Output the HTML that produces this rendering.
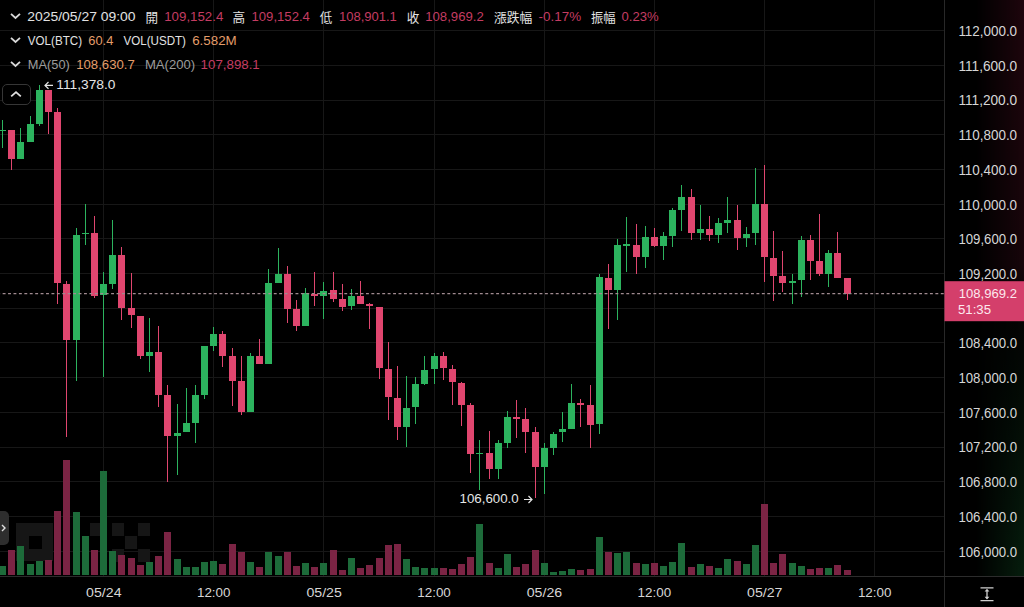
<!DOCTYPE html>
<html><head><meta charset="utf-8"><title>BTC/USDT</title>
<style>
*{margin:0;padding:0;box-sizing:border-box}
html,body{width:1024px;height:607px;background:#000;overflow:hidden}
body{position:relative;font-family:"Liberation Sans","Noto Sans CJK TC",sans-serif;color:#dcdcdc}
svg{position:absolute;left:0;top:0}
.glow{position:absolute;left:944px;top:0;width:80px;height:576px;background:linear-gradient(180deg,rgba(60,10,25,0.5) 0%,rgba(55,12,24,0.42) 46%,rgba(20,15,15,0.2) 54%,rgba(8,30,15,0.3) 66%,rgba(10,50,22,0.6) 100%);-webkit-mask-image:linear-gradient(to right,transparent 40%,#000 100%);mask-image:linear-gradient(to right,transparent 40%,#000 100%)}
.btn{position:absolute;left:2px;top:84px;width:29px;height:21px;border:1.5px solid #363636;border-radius:5px;background:#000}
.tab{position:absolute;left:-6px;top:511px;width:15px;height:34px;border-radius:5px;background:#2e2e2e}
</style></head><body>
<div class="glow"></div>
<svg width="1024" height="607" viewBox="0 0 1024 607" shape-rendering="crispEdges">
<line x1="0" y1="30.5" x2="944" y2="30.5" stroke="#171717" stroke-width="1"/>
<line x1="0" y1="65.5" x2="944" y2="65.5" stroke="#171717" stroke-width="1"/>
<line x1="0" y1="100.5" x2="944" y2="100.5" stroke="#171717" stroke-width="1"/>
<line x1="0" y1="134.5" x2="944" y2="134.5" stroke="#171717" stroke-width="1"/>
<line x1="0" y1="169.5" x2="944" y2="169.5" stroke="#171717" stroke-width="1"/>
<line x1="0" y1="204.5" x2="944" y2="204.5" stroke="#171717" stroke-width="1"/>
<line x1="0" y1="238.5" x2="944" y2="238.5" stroke="#171717" stroke-width="1"/>
<line x1="0" y1="273.5" x2="944" y2="273.5" stroke="#171717" stroke-width="1"/>
<line x1="0" y1="308.5" x2="944" y2="308.5" stroke="#171717" stroke-width="1"/>
<line x1="0" y1="342.5" x2="944" y2="342.5" stroke="#171717" stroke-width="1"/>
<line x1="0" y1="377.5" x2="944" y2="377.5" stroke="#171717" stroke-width="1"/>
<line x1="0" y1="412.5" x2="944" y2="412.5" stroke="#171717" stroke-width="1"/>
<line x1="0" y1="447.5" x2="944" y2="447.5" stroke="#171717" stroke-width="1"/>
<line x1="0" y1="481.5" x2="944" y2="481.5" stroke="#171717" stroke-width="1"/>
<line x1="0" y1="516.5" x2="944" y2="516.5" stroke="#171717" stroke-width="1"/>
<line x1="0" y1="551.5" x2="944" y2="551.5" stroke="#171717" stroke-width="1"/>
<line x1="103.5" y1="0" x2="103.5" y2="576" stroke="#171717" stroke-width="1"/>
<line x1="213.5" y1="0" x2="213.5" y2="576" stroke="#171717" stroke-width="1"/>
<line x1="323.5" y1="0" x2="323.5" y2="576" stroke="#171717" stroke-width="1"/>
<line x1="434.5" y1="0" x2="434.5" y2="576" stroke="#171717" stroke-width="1"/>
<line x1="544.5" y1="0" x2="544.5" y2="576" stroke="#171717" stroke-width="1"/>
<line x1="654.5" y1="0" x2="654.5" y2="576" stroke="#171717" stroke-width="1"/>
<line x1="764.5" y1="0" x2="764.5" y2="576" stroke="#171717" stroke-width="1"/>
<line x1="874.5" y1="0" x2="874.5" y2="576" stroke="#171717" stroke-width="1"/>
<path d="M15.9 523.3h37.5v37.5h-37.5z M28.6 536.0v12.5h13v-12.5z" fill="#161616" fill-rule="evenodd"/>
<rect x="90.0" y="523.3" width="12.5" height="12.5" fill="#161616"/>
<rect x="111.5" y="523.3" width="12.5" height="12.5" fill="#161616"/>
<rect x="137.5" y="523.3" width="12.5" height="12.5" fill="#161616"/>
<rect x="124.5" y="536.3" width="12.5" height="12.5" fill="#161616"/>
<rect x="111.5" y="549.3" width="12.5" height="12.5" fill="#161616"/>
<rect x="137.5" y="549.3" width="12.5" height="12.5" fill="#161616"/>
<rect x="-1" y="566" width="7" height="9" fill="#1d6b3a"/>
<rect x="8" y="550" width="7" height="25" fill="#7b2444"/>
<rect x="17" y="546" width="7" height="29" fill="#1d6b3a"/>
<rect x="27" y="564" width="7" height="11" fill="#1d6b3a"/>
<rect x="36" y="561" width="7" height="14" fill="#1d6b3a"/>
<rect x="45" y="560" width="7" height="15" fill="#7b2444"/>
<rect x="54" y="511" width="7" height="64" fill="#7b2444"/>
<rect x="63" y="460" width="7" height="115" fill="#7b2444"/>
<rect x="73" y="512" width="7" height="63" fill="#1d6b3a"/>
<rect x="82" y="536" width="7" height="39" fill="#1d6b3a"/>
<rect x="91" y="550" width="7" height="25" fill="#7b2444"/>
<rect x="100" y="471" width="7" height="104" fill="#1d6b3a"/>
<rect x="109" y="551" width="7" height="24" fill="#1d6b3a"/>
<rect x="118" y="555" width="7" height="20" fill="#7b2444"/>
<rect x="128" y="558" width="7" height="17" fill="#7b2444"/>
<rect x="137" y="565" width="7" height="10" fill="#7b2444"/>
<rect x="146" y="562" width="7" height="13" fill="#1d6b3a"/>
<rect x="155" y="556" width="7" height="19" fill="#7b2444"/>
<rect x="164" y="532" width="7" height="43" fill="#7b2444"/>
<rect x="174" y="559" width="7" height="16" fill="#1d6b3a"/>
<rect x="183" y="567" width="7" height="8" fill="#1d6b3a"/>
<rect x="192" y="567" width="7" height="8" fill="#1d6b3a"/>
<rect x="201" y="562" width="7" height="13" fill="#1d6b3a"/>
<rect x="210" y="561" width="7" height="14" fill="#1d6b3a"/>
<rect x="219" y="564" width="7" height="11" fill="#7b2444"/>
<rect x="229" y="544" width="7" height="31" fill="#7b2444"/>
<rect x="238" y="552" width="7" height="23" fill="#7b2444"/>
<rect x="247" y="562" width="7" height="13" fill="#1d6b3a"/>
<rect x="256" y="567" width="7" height="8" fill="#7b2444"/>
<rect x="265" y="552" width="7" height="23" fill="#1d6b3a"/>
<rect x="275" y="556" width="7" height="19" fill="#1d6b3a"/>
<rect x="284" y="552" width="7" height="23" fill="#7b2444"/>
<rect x="293" y="566" width="7" height="9" fill="#7b2444"/>
<rect x="302" y="563" width="7" height="12" fill="#1d6b3a"/>
<rect x="311" y="567" width="7" height="8" fill="#7b2444"/>
<rect x="320" y="563" width="7" height="12" fill="#1d6b3a"/>
<rect x="330" y="550" width="7" height="25" fill="#7b2444"/>
<rect x="339" y="570" width="7" height="5" fill="#7b2444"/>
<rect x="348" y="558" width="7" height="17" fill="#1d6b3a"/>
<rect x="357" y="568" width="7" height="7" fill="#7b2444"/>
<rect x="366" y="565" width="7" height="10" fill="#7b2444"/>
<rect x="376" y="558" width="7" height="17" fill="#7b2444"/>
<rect x="385" y="545" width="7" height="30" fill="#7b2444"/>
<rect x="394" y="544" width="7" height="31" fill="#7b2444"/>
<rect x="403" y="559" width="7" height="16" fill="#1d6b3a"/>
<rect x="412" y="567" width="7" height="8" fill="#1d6b3a"/>
<rect x="421" y="568" width="7" height="7" fill="#1d6b3a"/>
<rect x="431" y="568" width="7" height="7" fill="#1d6b3a"/>
<rect x="440" y="568" width="7" height="7" fill="#7b2444"/>
<rect x="449" y="569" width="7" height="6" fill="#7b2444"/>
<rect x="458" y="564" width="7" height="11" fill="#7b2444"/>
<rect x="467" y="557" width="7" height="18" fill="#7b2444"/>
<rect x="476" y="524" width="7" height="51" fill="#1d6b3a"/>
<rect x="486" y="563" width="7" height="12" fill="#7b2444"/>
<rect x="495" y="568" width="7" height="7" fill="#1d6b3a"/>
<rect x="504" y="554" width="7" height="21" fill="#1d6b3a"/>
<rect x="513" y="567" width="7" height="8" fill="#7b2444"/>
<rect x="522" y="564" width="7" height="11" fill="#7b2444"/>
<rect x="532" y="550" width="7" height="25" fill="#7b2444"/>
<rect x="541" y="563" width="7" height="12" fill="#1d6b3a"/>
<rect x="550" y="572" width="7" height="3" fill="#1d6b3a"/>
<rect x="559" y="571" width="7" height="4" fill="#1d6b3a"/>
<rect x="568" y="569" width="7" height="6" fill="#1d6b3a"/>
<rect x="577" y="570" width="7" height="5" fill="#7b2444"/>
<rect x="587" y="569" width="7" height="6" fill="#7b2444"/>
<rect x="596" y="537" width="7" height="38" fill="#1d6b3a"/>
<rect x="605" y="552" width="7" height="23" fill="#7b2444"/>
<rect x="614" y="553" width="7" height="22" fill="#1d6b3a"/>
<rect x="623" y="552" width="7" height="23" fill="#1d6b3a"/>
<rect x="633" y="563" width="7" height="12" fill="#7b2444"/>
<rect x="642" y="564" width="7" height="11" fill="#1d6b3a"/>
<rect x="651" y="563" width="7" height="12" fill="#7b2444"/>
<rect x="660" y="566" width="7" height="9" fill="#1d6b3a"/>
<rect x="669" y="562" width="7" height="13" fill="#1d6b3a"/>
<rect x="678" y="543" width="7" height="32" fill="#1d6b3a"/>
<rect x="688" y="567" width="7" height="8" fill="#7b2444"/>
<rect x="697" y="564" width="7" height="11" fill="#1d6b3a"/>
<rect x="706" y="566" width="7" height="9" fill="#7b2444"/>
<rect x="715" y="568" width="7" height="7" fill="#1d6b3a"/>
<rect x="724" y="559" width="7" height="16" fill="#1d6b3a"/>
<rect x="734" y="561" width="7" height="14" fill="#7b2444"/>
<rect x="743" y="564" width="7" height="11" fill="#1d6b3a"/>
<rect x="752" y="545" width="7" height="30" fill="#1d6b3a"/>
<rect x="761" y="504" width="7" height="71" fill="#7b2444"/>
<rect x="770" y="563" width="7" height="12" fill="#7b2444"/>
<rect x="779" y="554" width="7" height="21" fill="#7b2444"/>
<rect x="789" y="563" width="7" height="12" fill="#1d6b3a"/>
<rect x="798" y="566" width="7" height="9" fill="#1d6b3a"/>
<rect x="807" y="569" width="7" height="6" fill="#7b2444"/>
<rect x="816" y="568" width="7" height="7" fill="#7b2444"/>
<rect x="825" y="568" width="7" height="7" fill="#1d6b3a"/>
<rect x="834" y="565" width="7" height="10" fill="#7b2444"/>
<rect x="844" y="570" width="7" height="5" fill="#7b2444"/>
<rect x="2" y="120" width="1" height="28" fill="#2cb35e"/>
<rect x="-1" y="130" width="7" height="1" fill="#2cb35e"/>
<rect x="11" y="130" width="1" height="40" fill="#e0466f"/>
<rect x="8" y="130" width="7" height="29" fill="#e0466f"/>
<rect x="20" y="128" width="1" height="31" fill="#2cb35e"/>
<rect x="17" y="142" width="7" height="17" fill="#2cb35e"/>
<rect x="30" y="116" width="1" height="26" fill="#2cb35e"/>
<rect x="27" y="124" width="7" height="18" fill="#2cb35e"/>
<rect x="39" y="85" width="1" height="41" fill="#2cb35e"/>
<rect x="36" y="90" width="7" height="34" fill="#2cb35e"/>
<rect x="48" y="90" width="1" height="44" fill="#e0466f"/>
<rect x="45" y="90" width="7" height="22" fill="#e0466f"/>
<rect x="57" y="108" width="1" height="196" fill="#e0466f"/>
<rect x="54" y="112" width="7" height="171" fill="#e0466f"/>
<rect x="66" y="281" width="1" height="156" fill="#e0466f"/>
<rect x="63" y="284" width="7" height="56" fill="#e0466f"/>
<rect x="76" y="228" width="1" height="153" fill="#2cb35e"/>
<rect x="73" y="235" width="7" height="105" fill="#2cb35e"/>
<rect x="85" y="204" width="1" height="41" fill="#2cb35e"/>
<rect x="82" y="233" width="7" height="1" fill="#2cb35e"/>
<rect x="94" y="216" width="1" height="82" fill="#e0466f"/>
<rect x="91" y="233" width="7" height="63" fill="#e0466f"/>
<rect x="103" y="272" width="1" height="105" fill="#2cb35e"/>
<rect x="100" y="284" width="7" height="11" fill="#2cb35e"/>
<rect x="112" y="220" width="1" height="69" fill="#2cb35e"/>
<rect x="109" y="255" width="7" height="29" fill="#2cb35e"/>
<rect x="121" y="247" width="1" height="73" fill="#e0466f"/>
<rect x="118" y="255" width="7" height="53" fill="#e0466f"/>
<rect x="131" y="273" width="1" height="55" fill="#e0466f"/>
<rect x="128" y="308" width="7" height="7" fill="#e0466f"/>
<rect x="140" y="316" width="1" height="43" fill="#e0466f"/>
<rect x="137" y="316" width="7" height="40" fill="#e0466f"/>
<rect x="149" y="318" width="1" height="54" fill="#2cb35e"/>
<rect x="146" y="352" width="7" height="4" fill="#2cb35e"/>
<rect x="158" y="326" width="1" height="81" fill="#e0466f"/>
<rect x="155" y="352" width="7" height="43" fill="#e0466f"/>
<rect x="167" y="385" width="1" height="97" fill="#e0466f"/>
<rect x="164" y="395" width="7" height="41" fill="#e0466f"/>
<rect x="177" y="404" width="1" height="71" fill="#2cb35e"/>
<rect x="174" y="433" width="7" height="3" fill="#2cb35e"/>
<rect x="186" y="388" width="1" height="44" fill="#2cb35e"/>
<rect x="183" y="423" width="7" height="9" fill="#2cb35e"/>
<rect x="195" y="385" width="1" height="58" fill="#2cb35e"/>
<rect x="192" y="395" width="7" height="28" fill="#2cb35e"/>
<rect x="204" y="346" width="1" height="53" fill="#2cb35e"/>
<rect x="201" y="346" width="7" height="49" fill="#2cb35e"/>
<rect x="213" y="327" width="1" height="24" fill="#2cb35e"/>
<rect x="210" y="334" width="7" height="12" fill="#2cb35e"/>
<rect x="222" y="331" width="1" height="36" fill="#e0466f"/>
<rect x="219" y="334" width="7" height="22" fill="#e0466f"/>
<rect x="232" y="348" width="1" height="58" fill="#e0466f"/>
<rect x="229" y="356" width="7" height="25" fill="#e0466f"/>
<rect x="241" y="356" width="1" height="59" fill="#e0466f"/>
<rect x="238" y="381" width="7" height="31" fill="#e0466f"/>
<rect x="250" y="353" width="1" height="59" fill="#2cb35e"/>
<rect x="247" y="356" width="7" height="56" fill="#2cb35e"/>
<rect x="259" y="339" width="1" height="25" fill="#e0466f"/>
<rect x="256" y="356" width="7" height="8" fill="#e0466f"/>
<rect x="268" y="269" width="1" height="95" fill="#2cb35e"/>
<rect x="265" y="283" width="7" height="81" fill="#2cb35e"/>
<rect x="278" y="248" width="1" height="35" fill="#2cb35e"/>
<rect x="275" y="274" width="7" height="9" fill="#2cb35e"/>
<rect x="287" y="266" width="1" height="57" fill="#e0466f"/>
<rect x="284" y="274" width="7" height="35" fill="#e0466f"/>
<rect x="296" y="300" width="1" height="31" fill="#e0466f"/>
<rect x="293" y="309" width="7" height="17" fill="#e0466f"/>
<rect x="305" y="288" width="1" height="38" fill="#2cb35e"/>
<rect x="302" y="293" width="7" height="33" fill="#2cb35e"/>
<rect x="314" y="272" width="1" height="34" fill="#e0466f"/>
<rect x="311" y="294" width="7" height="2" fill="#e0466f"/>
<rect x="323" y="282" width="1" height="37" fill="#2cb35e"/>
<rect x="320" y="291" width="7" height="5" fill="#2cb35e"/>
<rect x="333" y="272" width="1" height="30" fill="#e0466f"/>
<rect x="330" y="290" width="7" height="9" fill="#e0466f"/>
<rect x="342" y="284" width="1" height="27" fill="#e0466f"/>
<rect x="339" y="299" width="7" height="8" fill="#e0466f"/>
<rect x="351" y="289" width="1" height="21" fill="#2cb35e"/>
<rect x="348" y="296" width="7" height="10" fill="#2cb35e"/>
<rect x="360" y="281" width="1" height="23" fill="#e0466f"/>
<rect x="357" y="296" width="7" height="8" fill="#e0466f"/>
<rect x="369" y="303" width="1" height="26" fill="#e0466f"/>
<rect x="366" y="304" width="7" height="2" fill="#e0466f"/>
<rect x="379" y="307" width="1" height="72" fill="#e0466f"/>
<rect x="376" y="307" width="7" height="61" fill="#e0466f"/>
<rect x="388" y="342" width="1" height="78" fill="#e0466f"/>
<rect x="385" y="369" width="7" height="28" fill="#e0466f"/>
<rect x="397" y="366" width="1" height="74" fill="#e0466f"/>
<rect x="394" y="398" width="7" height="29" fill="#e0466f"/>
<rect x="406" y="376" width="1" height="71" fill="#2cb35e"/>
<rect x="403" y="408" width="7" height="19" fill="#2cb35e"/>
<rect x="415" y="377" width="1" height="47" fill="#2cb35e"/>
<rect x="412" y="384" width="7" height="23" fill="#2cb35e"/>
<rect x="424" y="356" width="1" height="29" fill="#2cb35e"/>
<rect x="421" y="370" width="7" height="14" fill="#2cb35e"/>
<rect x="434" y="353" width="1" height="31" fill="#2cb35e"/>
<rect x="431" y="356" width="7" height="13" fill="#2cb35e"/>
<rect x="443" y="352" width="1" height="28" fill="#e0466f"/>
<rect x="440" y="356" width="7" height="12" fill="#e0466f"/>
<rect x="452" y="365" width="1" height="40" fill="#e0466f"/>
<rect x="449" y="369" width="7" height="13" fill="#e0466f"/>
<rect x="461" y="382" width="1" height="44" fill="#e0466f"/>
<rect x="458" y="383" width="7" height="22" fill="#e0466f"/>
<rect x="470" y="403" width="1" height="70" fill="#e0466f"/>
<rect x="467" y="405" width="7" height="49" fill="#e0466f"/>
<rect x="479" y="440" width="1" height="50" fill="#2cb35e"/>
<rect x="476" y="453" width="7" height="1" fill="#2cb35e"/>
<rect x="489" y="431" width="1" height="48" fill="#e0466f"/>
<rect x="486" y="453" width="7" height="16" fill="#e0466f"/>
<rect x="498" y="440" width="1" height="39" fill="#2cb35e"/>
<rect x="495" y="443" width="7" height="26" fill="#2cb35e"/>
<rect x="507" y="411" width="1" height="37" fill="#2cb35e"/>
<rect x="504" y="417" width="7" height="26" fill="#2cb35e"/>
<rect x="516" y="400" width="1" height="38" fill="#e0466f"/>
<rect x="513" y="417" width="7" height="2" fill="#e0466f"/>
<rect x="525" y="408" width="1" height="45" fill="#e0466f"/>
<rect x="522" y="419" width="7" height="13" fill="#e0466f"/>
<rect x="535" y="427" width="1" height="71" fill="#e0466f"/>
<rect x="532" y="432" width="7" height="35" fill="#e0466f"/>
<rect x="544" y="443" width="1" height="51" fill="#2cb35e"/>
<rect x="541" y="448" width="7" height="19" fill="#2cb35e"/>
<rect x="553" y="432" width="1" height="23" fill="#2cb35e"/>
<rect x="550" y="434" width="7" height="14" fill="#2cb35e"/>
<rect x="562" y="412" width="1" height="30" fill="#2cb35e"/>
<rect x="559" y="429" width="7" height="3" fill="#2cb35e"/>
<rect x="571" y="384" width="1" height="45" fill="#2cb35e"/>
<rect x="568" y="403" width="7" height="26" fill="#2cb35e"/>
<rect x="580" y="399" width="1" height="28" fill="#e0466f"/>
<rect x="577" y="403" width="7" height="2" fill="#e0466f"/>
<rect x="590" y="385" width="1" height="63" fill="#e0466f"/>
<rect x="587" y="405" width="7" height="20" fill="#e0466f"/>
<rect x="599" y="274" width="1" height="160" fill="#2cb35e"/>
<rect x="596" y="277" width="7" height="147" fill="#2cb35e"/>
<rect x="608" y="264" width="1" height="65" fill="#e0466f"/>
<rect x="605" y="278" width="7" height="12" fill="#e0466f"/>
<rect x="617" y="239" width="1" height="81" fill="#2cb35e"/>
<rect x="614" y="245" width="7" height="45" fill="#2cb35e"/>
<rect x="626" y="217" width="1" height="55" fill="#2cb35e"/>
<rect x="623" y="244" width="7" height="2" fill="#2cb35e"/>
<rect x="636" y="224" width="1" height="50" fill="#e0466f"/>
<rect x="633" y="245" width="7" height="12" fill="#e0466f"/>
<rect x="645" y="226" width="1" height="42" fill="#2cb35e"/>
<rect x="642" y="237" width="7" height="20" fill="#2cb35e"/>
<rect x="654" y="228" width="1" height="19" fill="#e0466f"/>
<rect x="651" y="237" width="7" height="9" fill="#e0466f"/>
<rect x="663" y="232" width="1" height="28" fill="#2cb35e"/>
<rect x="660" y="236" width="7" height="10" fill="#2cb35e"/>
<rect x="672" y="208" width="1" height="39" fill="#2cb35e"/>
<rect x="669" y="210" width="7" height="26" fill="#2cb35e"/>
<rect x="681" y="185" width="1" height="46" fill="#2cb35e"/>
<rect x="678" y="197" width="7" height="13" fill="#2cb35e"/>
<rect x="691" y="189" width="1" height="51" fill="#e0466f"/>
<rect x="688" y="197" width="7" height="36" fill="#e0466f"/>
<rect x="700" y="205" width="1" height="35" fill="#2cb35e"/>
<rect x="697" y="229" width="7" height="4" fill="#2cb35e"/>
<rect x="709" y="216" width="1" height="25" fill="#e0466f"/>
<rect x="706" y="229" width="7" height="6" fill="#e0466f"/>
<rect x="718" y="218" width="1" height="25" fill="#2cb35e"/>
<rect x="715" y="223" width="7" height="12" fill="#2cb35e"/>
<rect x="727" y="197" width="1" height="36" fill="#2cb35e"/>
<rect x="724" y="220" width="7" height="3" fill="#2cb35e"/>
<rect x="737" y="205" width="1" height="45" fill="#e0466f"/>
<rect x="734" y="220" width="7" height="18" fill="#e0466f"/>
<rect x="746" y="227" width="1" height="20" fill="#2cb35e"/>
<rect x="743" y="234" width="7" height="4" fill="#2cb35e"/>
<rect x="755" y="168" width="1" height="77" fill="#2cb35e"/>
<rect x="752" y="204" width="7" height="29" fill="#2cb35e"/>
<rect x="764" y="165" width="1" height="117" fill="#e0466f"/>
<rect x="761" y="204" width="7" height="53" fill="#e0466f"/>
<rect x="773" y="231" width="1" height="70" fill="#e0466f"/>
<rect x="770" y="258" width="7" height="18" fill="#e0466f"/>
<rect x="782" y="251" width="1" height="41" fill="#e0466f"/>
<rect x="779" y="276" width="7" height="7" fill="#e0466f"/>
<rect x="792" y="274" width="1" height="30" fill="#2cb35e"/>
<rect x="789" y="281" width="7" height="2" fill="#2cb35e"/>
<rect x="801" y="236" width="1" height="61" fill="#2cb35e"/>
<rect x="798" y="240" width="7" height="40" fill="#2cb35e"/>
<rect x="810" y="235" width="1" height="45" fill="#e0466f"/>
<rect x="807" y="240" width="7" height="21" fill="#e0466f"/>
<rect x="819" y="214" width="1" height="62" fill="#e0466f"/>
<rect x="816" y="261" width="7" height="13" fill="#e0466f"/>
<rect x="828" y="250" width="1" height="37" fill="#2cb35e"/>
<rect x="825" y="253" width="7" height="21" fill="#2cb35e"/>
<rect x="837" y="232" width="1" height="46" fill="#e0466f"/>
<rect x="834" y="253" width="7" height="25" fill="#e0466f"/>
<rect x="847" y="278" width="1" height="22" fill="#e0466f"/>
<rect x="844" y="278" width="7" height="16" fill="#e0466f"/>
<line x1="0" y1="293.6" x2="944" y2="293.6" stroke="#a08a90" stroke-width="1.1" stroke-dasharray="2.9 2.5228" stroke-dashoffset="2.77" shape-rendering="geometricPrecision"/>
<line x1="944.5" y1="0" x2="944.5" y2="607" stroke="#282828" stroke-width="1"/>
<line x1="0" y1="576.5" x2="1024" y2="576.5" stroke="#2c2c2c" stroke-width="1"/>
</svg>
<svg width="1024" height="607" viewBox="0 0 1024 607">
<g fill="none" stroke="#d8d8d8" stroke-width="1.8">
<path d="M11 13.8 L15.5 18 L20 13.8"/>
<path d="M11 37.8 L15.5 42 L20 37.8"/>
<path d="M11 61.8 L15.5 66 L20 61.8"/>
</g>
<text x="27.30" y="21.1" font-size="13.2" fill="#e2e2e2" font-family='"Liberation Sans",sans-serif' textLength="108.30" lengthAdjust="spacingAndGlyphs">2025/05/27 09:00</text>
<text x="145.60" y="21.6" font-size="12.6" fill="#e2e2e2" font-family='"Noto Sans CJK TC",sans-serif'>開</text>
<text x="164.20" y="21.1" font-size="13.2" fill="#c43c62" font-family='"Liberation Sans",sans-serif' textLength="59.18" lengthAdjust="spacingAndGlyphs">109,152.4</text>
<text x="232.50" y="21.6" font-size="12.6" fill="#e2e2e2" font-family='"Noto Sans CJK TC",sans-serif'>高</text>
<text x="251.50" y="21.1" font-size="13.2" fill="#c43c62" font-family='"Liberation Sans",sans-serif' textLength="58.38" lengthAdjust="spacingAndGlyphs">109,152.4</text>
<text x="319.80" y="21.6" font-size="12.6" fill="#e2e2e2" font-family='"Noto Sans CJK TC",sans-serif'>低</text>
<text x="338.90" y="21.1" font-size="13.2" fill="#c43c62" font-family='"Liberation Sans",sans-serif' textLength="57.98" lengthAdjust="spacingAndGlyphs">108,901.1</text>
<text x="406.70" y="21.6" font-size="12.6" fill="#e2e2e2" font-family='"Noto Sans CJK TC",sans-serif'>收</text>
<text x="425.20" y="21.1" font-size="13.2" fill="#c43c62" font-family='"Liberation Sans",sans-serif' textLength="58.58" lengthAdjust="spacingAndGlyphs">108,969.2</text>
<text x="494.00" y="21.6" font-size="12.6" fill="#e2e2e2" font-family='"Noto Sans CJK TC",sans-serif' textLength="38.30" lengthAdjust="spacingAndGlyphs">漲跌幅</text>
<text x="538.60" y="21.1" font-size="13.2" fill="#c43c62" font-family='"Liberation Sans",sans-serif' textLength="42.58" lengthAdjust="spacingAndGlyphs">-0.17%</text>
<text x="591.00" y="21.6" font-size="12.6" fill="#e2e2e2" font-family='"Noto Sans CJK TC",sans-serif' textLength="24.70" lengthAdjust="spacingAndGlyphs">振幅</text>
<text x="621.60" y="21.1" font-size="13.2" fill="#c43c62" font-family='"Liberation Sans",sans-serif' textLength="37.11" lengthAdjust="spacingAndGlyphs">0.23%</text>
<text x="27.80" y="45.3" font-size="13.2" fill="#e2e2e2" font-family='"Liberation Sans",sans-serif' textLength="54.23" lengthAdjust="spacingAndGlyphs">VOL(BTC)</text>
<text x="88.30" y="45.3" font-size="13.2" fill="#e49d6a" font-family='"Liberation Sans",sans-serif' textLength="25.02" lengthAdjust="spacingAndGlyphs">60.4</text>
<text x="123.40" y="45.3" font-size="13.2" fill="#e2e2e2" font-family='"Liberation Sans",sans-serif' textLength="62.59" lengthAdjust="spacingAndGlyphs">VOL(USDT)</text>
<text x="192.20" y="45.3" font-size="13.2" fill="#e49d6a" font-family='"Liberation Sans",sans-serif' textLength="44.51" lengthAdjust="spacingAndGlyphs">6.582M</text>
<text x="27.80" y="68.75" font-size="13.2" fill="#9c9c9c" font-family='"Liberation Sans",sans-serif' textLength="41.98" lengthAdjust="spacingAndGlyphs">MA(50)</text>
<text x="76.25" y="68.75" font-size="13.2" fill="#e49d6a" font-family='"Liberation Sans",sans-serif' textLength="58.48" lengthAdjust="spacingAndGlyphs">108,630.7</text>
<text x="144.90" y="68.75" font-size="13.2" fill="#9c9c9c" font-family='"Liberation Sans",sans-serif' textLength="50.20" lengthAdjust="spacingAndGlyphs">MA(200)</text>
<text x="200.60" y="68.75" font-size="13.2" fill="#c43c62" font-family='"Liberation Sans",sans-serif' textLength="59.18" lengthAdjust="spacingAndGlyphs">107,898.1</text>
<text x="958.40" y="35.9" font-size="13.8" fill="#d6d6d6" font-family='"Liberation Sans",sans-serif' textLength="58.69" lengthAdjust="spacingAndGlyphs">112,000.0</text>
<text x="958.40" y="70.6" font-size="13.8" fill="#d6d6d6" font-family='"Liberation Sans",sans-serif' textLength="58.71" lengthAdjust="spacingAndGlyphs">111,600.0</text>
<text x="958.40" y="105.3" font-size="13.8" fill="#d6d6d6" font-family='"Liberation Sans",sans-serif' textLength="58.71" lengthAdjust="spacingAndGlyphs">111,200.0</text>
<text x="958.40" y="140.0" font-size="13.8" fill="#d6d6d6" font-family='"Liberation Sans",sans-serif' textLength="58.69" lengthAdjust="spacingAndGlyphs">110,800.0</text>
<text x="958.40" y="174.7" font-size="13.8" fill="#d6d6d6" font-family='"Liberation Sans",sans-serif' textLength="58.69" lengthAdjust="spacingAndGlyphs">110,400.0</text>
<text x="958.40" y="209.5" font-size="13.8" fill="#d6d6d6" font-family='"Liberation Sans",sans-serif' textLength="58.69" lengthAdjust="spacingAndGlyphs">110,000.0</text>
<text x="958.40" y="244.2" font-size="13.8" fill="#d6d6d6" font-family='"Liberation Sans",sans-serif' textLength="58.68" lengthAdjust="spacingAndGlyphs">109,600.0</text>
<text x="958.40" y="278.9" font-size="13.8" fill="#d6d6d6" font-family='"Liberation Sans",sans-serif' textLength="58.68" lengthAdjust="spacingAndGlyphs">109,200.0</text>
<text x="958.40" y="348.3" font-size="13.8" fill="#d6d6d6" font-family='"Liberation Sans",sans-serif' textLength="58.68" lengthAdjust="spacingAndGlyphs">108,400.0</text>
<text x="958.40" y="383.0" font-size="13.8" fill="#d6d6d6" font-family='"Liberation Sans",sans-serif' textLength="58.68" lengthAdjust="spacingAndGlyphs">108,000.0</text>
<text x="958.40" y="417.7" font-size="13.8" fill="#d6d6d6" font-family='"Liberation Sans",sans-serif' textLength="58.68" lengthAdjust="spacingAndGlyphs">107,600.0</text>
<text x="958.40" y="452.4" font-size="13.8" fill="#d6d6d6" font-family='"Liberation Sans",sans-serif' textLength="58.68" lengthAdjust="spacingAndGlyphs">107,200.0</text>
<text x="958.40" y="487.1" font-size="13.8" fill="#d6d6d6" font-family='"Liberation Sans",sans-serif' textLength="58.68" lengthAdjust="spacingAndGlyphs">106,800.0</text>
<text x="958.40" y="521.8" font-size="13.8" fill="#d6d6d6" font-family='"Liberation Sans",sans-serif' textLength="58.68" lengthAdjust="spacingAndGlyphs">106,400.0</text>
<text x="958.40" y="556.5" font-size="13.8" fill="#d6d6d6" font-family='"Liberation Sans",sans-serif' textLength="58.68" lengthAdjust="spacingAndGlyphs">106,000.0</text>
<rect x="944.5" y="281.2" width="80" height="40" fill="#d43f6b"/>
<text x="958.80" y="297.9" font-size="13.2" fill="#fde8ee" font-family='"Liberation Sans",sans-serif' textLength="58.18" lengthAdjust="spacingAndGlyphs">108,969.2</text>
<text x="958.00" y="313.7" font-size="13.2" fill="#fde8ee" font-family='"Liberation Sans",sans-serif' textLength="33.07" lengthAdjust="spacingAndGlyphs">51:35</text>
<text x="86.10" y="597.3" font-size="13.2" fill="#d6d6d6" font-family='"Liberation Sans",sans-serif' textLength="35.46" lengthAdjust="spacingAndGlyphs">05/24</text>
<text x="196.96" y="597.3" font-size="13.2" fill="#d6d6d6" font-family='"Liberation Sans",sans-serif' textLength="33.57" lengthAdjust="spacingAndGlyphs">12:00</text>
<text x="306.42" y="597.3" font-size="13.2" fill="#d6d6d6" font-family='"Liberation Sans",sans-serif' textLength="35.46" lengthAdjust="spacingAndGlyphs">05/25</text>
<text x="417.28" y="597.3" font-size="13.2" fill="#d6d6d6" font-family='"Liberation Sans",sans-serif' textLength="33.57" lengthAdjust="spacingAndGlyphs">12:00</text>
<text x="526.74" y="597.3" font-size="13.2" fill="#d6d6d6" font-family='"Liberation Sans",sans-serif' textLength="35.46" lengthAdjust="spacingAndGlyphs">05/26</text>
<text x="637.60" y="597.3" font-size="13.2" fill="#d6d6d6" font-family='"Liberation Sans",sans-serif' textLength="33.57" lengthAdjust="spacingAndGlyphs">12:00</text>
<text x="747.06" y="597.3" font-size="13.2" fill="#d6d6d6" font-family='"Liberation Sans",sans-serif' textLength="35.46" lengthAdjust="spacingAndGlyphs">05/27</text>
<text x="857.92" y="597.3" font-size="13.2" fill="#d6d6d6" font-family='"Liberation Sans",sans-serif' textLength="33.57" lengthAdjust="spacingAndGlyphs">12:00</text>
<text x="56.30" y="88.7" font-size="13.2" fill="#e6e6e6" font-family='"Liberation Sans",sans-serif' textLength="59.11" lengthAdjust="spacingAndGlyphs">111,378.0</text>
<text x="459.50" y="503.0" font-size="13.2" fill="#e6e6e6" font-family='"Liberation Sans",sans-serif' textLength="59.18" lengthAdjust="spacingAndGlyphs">106,600.0</text>
<path d="M45 85.4h8 M48.5 82 L45 85.4 L48.5 88.8" fill="none" stroke="#e6e6e6" stroke-width="1.2"/>
<path d="M524 499.5h8 M528.5 496 L532 499.5 L528.5 503" fill="none" stroke="#e6e6e6" stroke-width="1.2"/>
<path d="M980.5 587.8h13M980.5 600.6h13M987 590v8.5" fill="none" stroke="#cfcfcf" stroke-width="1.3"/><path d="M984.6 591.6L987 588.8l2.4 2.8zM984.6 596.8L987 599.6l2.4-2.8z" fill="#cfcfcf"/>
</svg>
<div class="btn"><svg width="26" height="18" viewBox="0 0 26 18" style="position:absolute;left:0;top:0"><path d="M8.2 11.4 L13 7.1 L17.8 11.4" fill="none" stroke="#e0e0e0" stroke-width="1.8"/></svg></div>
<div class="tab"><svg width="14" height="34" viewBox="0 0 14 34" style="position:absolute;left:0;top:0"><path d="M8 14 L11 17 L8 20" fill="none" stroke="#e0e0e0" stroke-width="1.4"/></svg></div>
</body></html>
